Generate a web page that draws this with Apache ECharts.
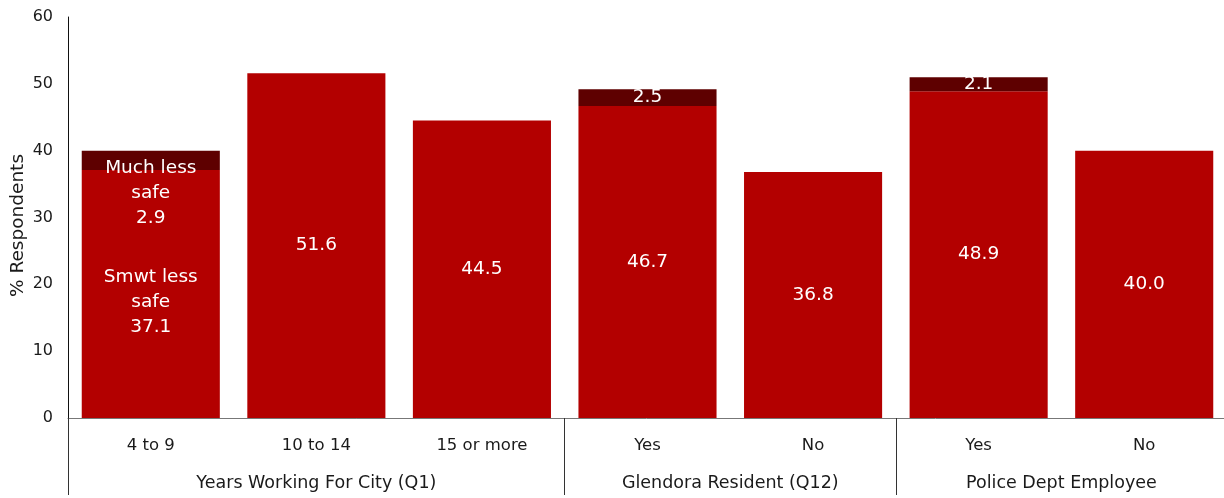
<!DOCTYPE html>
<html>
<head>
<meta charset="utf-8">
<title>% Respondents feeling less safe</title>
<script src="https://cdn.jsdelivr.net/npm/echarts@6/dist/echarts.min.js"></script>
<style>
  html, body { margin: 0; padding: 0; background: #ffffff; }
  #chart { width: 1224px; height: 498px; }
</style>
</head>
<body>
<div id="chart"></div>
<script>
// Subgroup categories along the bottom axis
const categories = ['4 to 9', '10 to 14', '15 or more', 'Yes', 'No', 'Yes', 'No'];

// Stacked series values (% of respondents)
const smwtLessSafe = [37.1, 51.6, 44.5, 46.7, 36.8, 48.9, 40.0];
const muchLessSafe = [2.9, null, null, 2.5, null, 2.1, null];

// Group headers and how many categories each one spans
const groupNames = ['Years Working For City (Q1)', 'Glendora Resident (Q12)', 'Police Dept Employee'];
const groupSpans = [3, 2, 2];

// Y-axis range
const yMin = 0, yMax = 60, yStep = 10;

const FONT = 'DejaVu Sans';
const RED = '#b30000';
const DARK = '#5e0000';

// Positions (in category units) of group centres and group boundaries
const groupCenters = [];
const groupBounds = [0];
let acc = 0;
groupSpans.forEach(function (n) {
  groupCenters.push(acc + n / 2);
  acc += n;
  if (acc < categories.length) groupBounds.push(acc);
});

function valueLabel(p) {
  const v = Number(p.value).toFixed(1);
  if (p.dataIndex === 0) {
    return p.seriesName.replace(/ (safe)$/, '\n$1') + '\n' + v;
  }
  return v;
}

const labelStyle = {
  show: true,
  position: 'inside',
  color: '#ffffff',
  fontFamily: FONT,
  fontSize: 18.5,
  lineHeight: 25,
  formatter: valueLabel
};

const chart = echarts.init(document.getElementById('chart'), null, { renderer: 'canvas' });

chart.setOption({
  animation: false,
  backgroundColor: '#ffffff',
  grid: { left: 68, right: -3, top: 17, bottom: 80, containLabel: false, outerBoundsMode: 'none' },
  xAxis: [
    {
      type: 'category',
      data: categories,
      position: 'bottom',
      axisLine: { show: true, lineStyle: { color: '#777777', width: 1 } },
      axisTick: { show: false },
      axisLabel: { color: '#1a1a1a', fontFamily: FONT, fontSize: 16.5, margin: 19, interval: 0 },
      splitLine: { show: false }
    },
    {
      type: 'value',
      min: 0,
      max: categories.length,
      position: 'bottom',
      axisLine: { show: false },
      splitLine: { show: false },
      axisTick: {
        show: true,
        inside: false,
        length: 77,
        customValues: groupBounds,
        lineStyle: { color: '#333333', width: 1 }
      },
      axisLabel: {
        show: true,
        customValues: groupCenters,
        margin: 56,
        color: '#1a1a1a',
        fontFamily: FONT,
        fontSize: 17.5,
        formatter: function (val) {
          const i = groupCenters.indexOf(val);
          return i >= 0 ? groupNames[i] : '';
        }
      }
    }
  ],
  yAxis: {
    type: 'value',
    min: yMin,
    max: yMax,
    interval: yStep,
    name: '% Respondents',
    nameLocation: 'middle',
    nameGap: 40,
    nameMoveOverlap: false,
    nameTextStyle: { color: '#1a1a1a', fontFamily: FONT, fontSize: 18.5, padding: [0, 16, 0, 0] },
    axisLine: { show: true, lineStyle: { color: '#111111', width: 1 } },
    axisTick: { show: false },
    axisLabel: { color: '#1a1a1a', fontFamily: FONT, fontSize: 16, margin: 15 },
    splitLine: { show: false }
  },
  series: [
    {
      name: 'Smwt less safe',
      type: 'bar',
      stack: 'total',
      xAxisIndex: 0,
      barWidth: '83.4%',
      itemStyle: { color: RED },
      label: labelStyle,
      data: smwtLessSafe.map(function (v, i) {
        return i === 0 ? { value: v, label: { offset: [0, 8] } } : v;
      })
    },
    {
      name: 'Much less safe',
      type: 'bar',
      stack: 'total',
      xAxisIndex: 0,
      barWidth: '83.4%',
      itemStyle: { color: DARK },
      label: labelStyle,
      data: muchLessSafe.map(function (v, i) {
        return i === 0 ? { value: v, label: { offset: [0, 33] } } : v;
      })
    }
  ]
});
</script>
</body>
</html>
